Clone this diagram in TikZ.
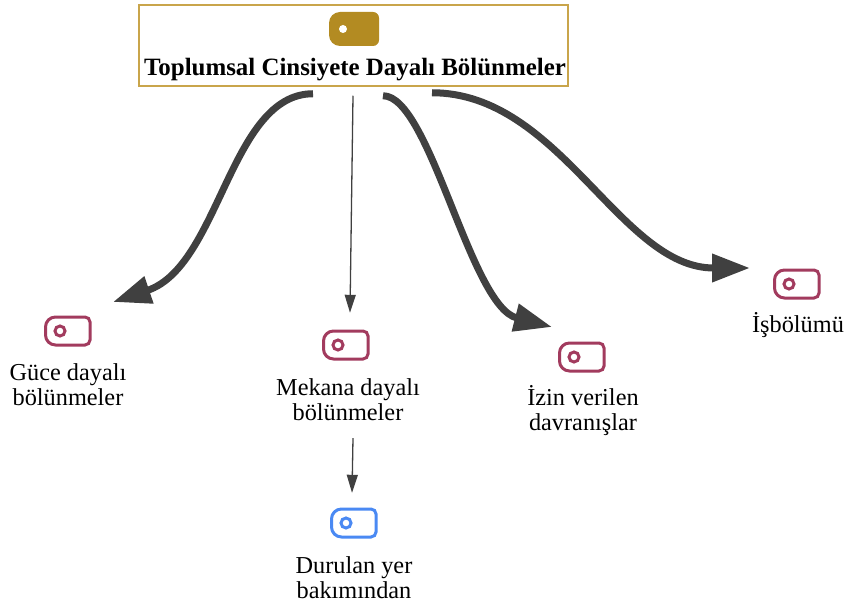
\documentclass[tikz,border=0pt]{standalone}
\usepackage{fontspec}
\setmainfont{Liberation Serif}
\usetikzlibrary{arrows.meta,calc}
\definecolor{lineC}{HTML}{404040}
\definecolor{maroonC}{HTML}{A23B5E}
\definecolor{blueC}{HTML}{4A89F3}
\definecolor{goldF}{HTML}{B38B22}
\definecolor{goldB}{HTML}{C9A54B}
\tikzset{
  pics/tagline/.style={code={
    \draw[#1, line width=3pt] (-12.5pt,14pt) -- (17pt,14pt) arc[start angle=90,end angle=0,radius=5pt]
      -- (22pt,-9pt) arc[start angle=0,end angle=-90,radius=5pt]
      -- (-12.5pt,-14pt) arc[start angle=270,end angle=180,radius=10pt]
      -- (-22.5pt,4pt) arc[start angle=180,end angle=90,radius=10pt] -- cycle;
    \draw[#1, line width=3pt] (-8pt,0pt) circle[radius=5pt];
  }},
  pics/taggold/.style={code={
    \fill[goldF] (-14pt,17pt) -- (19pt,17pt) arc[start angle=90,end angle=0,radius=6pt]
      -- (25pt,-11pt) arc[start angle=0,end angle=-90,radius=6pt]
      -- (-14pt,-17pt) arc[start angle=270,end angle=180,radius=11pt]
      -- (-25pt,6pt) arc[start angle=180,end angle=90,radius=11pt] -- cycle;
    \fill[white] (-11pt,0pt) circle[radius=4pt];
  }},
  iconbox/.style={minimum width=48pt, minimum height=31pt, inner sep=0pt},
  lbl/.style={anchor=base, inner sep=0pt, font=\fontsize{24.3}{25}\selectfont},
  bigarrow/.style={draw=lineC, line width=7pt, -{Triangle[length=38pt,width=27pt]}},
  thinarrow/.style={draw=lineC, line width=1.3pt, -{Triangle[length=18pt,width=11pt]}},
}
\begin{document}
\begin{tikzpicture}[x=1pt,y=1pt]
\useasboundingbox (0,0) rectangle (845,606);
% top box
\node[draw=goldB, line width=1.5pt, minimum width=429pt, minimum height=81pt, inner sep=0pt] (top) at (353.5,560.5) {};
\node[iconbox, minimum width=50pt, minimum height=34pt] (iT) at (354,577) {};
\pic at (iT) {taggold};
\node[anchor=base, inner sep=0pt, font=\bfseries\fontsize{24.9}{28}\selectfont] (title) at (355,530) {Toplumsal Cinsiyete Dayalı Bölünmeler};
% icons
\node[iconbox] (iA) at (68,275) {};
\pic at (iA) {tagline=maroonC};
\node[iconbox] (iB) at (346,261) {};
\pic at (iB) {tagline=maroonC};
\node[iconbox] (iC) at (354,83) {};
\pic at (iC) {tagline=blueC};
\node[iconbox] (iD) at (582,249) {};
\pic at (iD) {tagline=maroonC};
\node[iconbox] (iE) at (797,322) {};
\pic at (iE) {tagline=maroonC};
% labels
\node[lbl] (tA) at ($(iA)+(0,-49)$) {\begin{tabular}[t]{@{}c@{}}Güce dayalı\\bölünmeler\end{tabular}};
\node[lbl] (tB) at ($(iB)+(2,-50)$) {\begin{tabular}[t]{@{}c@{}}Mekana dayalı\\bölünmeler\end{tabular}};
\node[lbl] (tC) at ($(iC)+(0,-50)$) {\begin{tabular}[t]{@{}c@{}}Durulan yer\\bakımından\end{tabular}};
\node[lbl] (tD) at ($(iD)+(1,-48)$) {\begin{tabular}[t]{@{}c@{}}İzin verilen\\davranışlar\end{tabular}};
\node[lbl] (tE) at ($(iE)+(1,-48)$) {İşbölümü};
% connectors
\draw[bigarrow] ([xshift=-40.5pt,yshift=-7pt]top.south) .. controls +(-83,0) and +(107,36) .. ($(iA)+(45,29)$);
\draw[thinarrow] ([xshift=-0.5pt,yshift=-9pt]top.south) -- ([xshift=4pt,yshift=16.5pt]iB.north);
\draw[bigarrow] ([xshift=29.5pt,yshift=-9pt]top.south) .. controls +(47,0) and +(-82,21) .. ($(iD)+(-30,30)$);
\draw[bigarrow] ([xshift=78.5pt,yshift=-6pt]top.south) .. controls +(128,0) and +(-130,0) .. ($(iE)+(-47,16)$);
\draw[thinarrow] ([xshift=5pt,yshift=-10.5pt]tB.south) -- ([xshift=-2pt,yshift=14.5pt]iC.north);
\end{tikzpicture}
\end{document}
